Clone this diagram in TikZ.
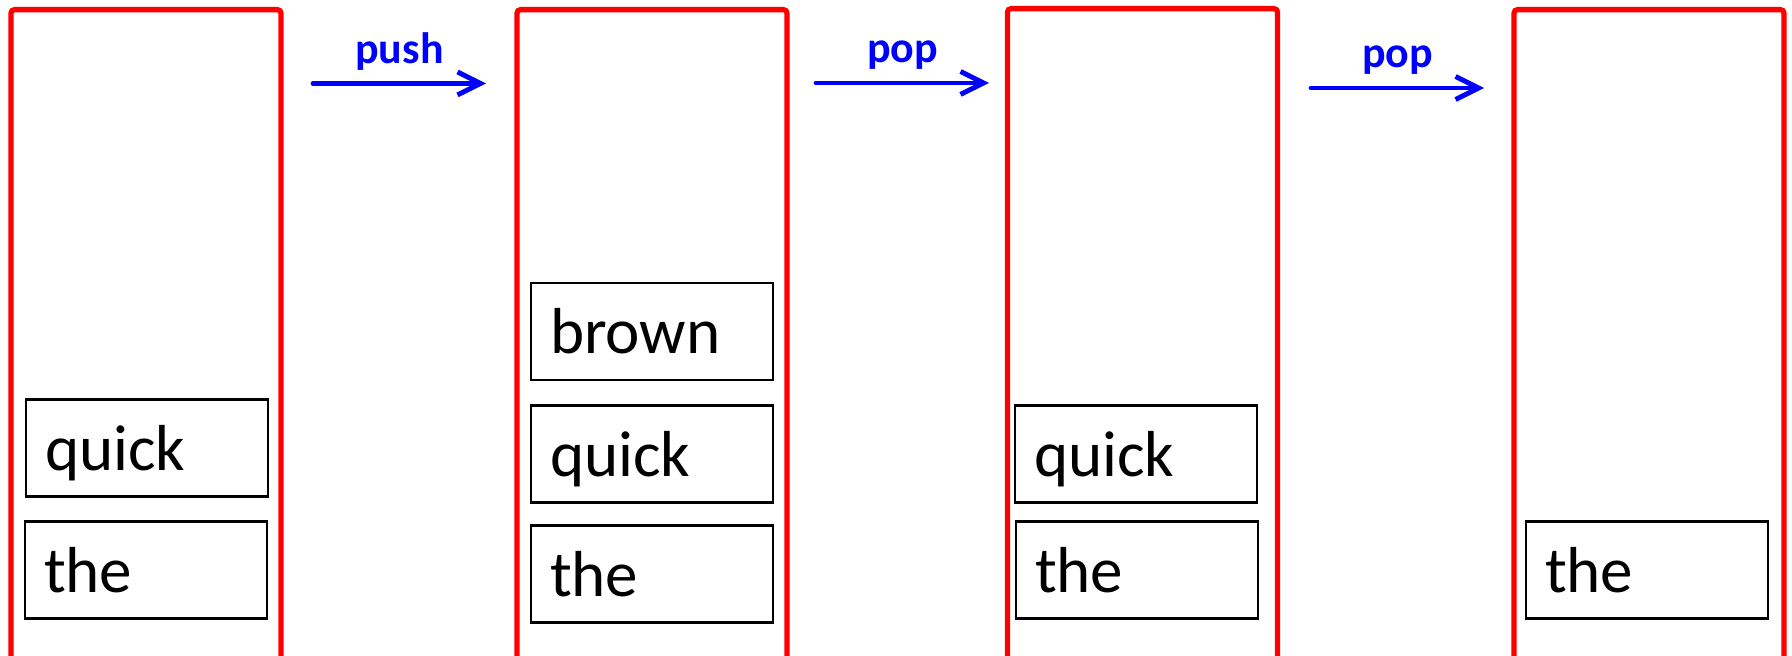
\documentclass[tikz,border=0pt]{standalone}
\usepackage{fontspec}
\setmainfont{Carlito}
\usetikzlibrary{arrows.meta}

\begin{document}
\begin{tikzpicture}[x=1cm,y=1cm,
  stackbox/.style={draw=red, line width=1.5pt, rounded corners=1pt,
    minimum width=2.7cm, minimum height=7.5cm, anchor=north},
  word/.style={draw=black, line width=0.7pt, minimum width=2.42cm,
    minimum height=0.97cm, text width=2.04cm, align=left, inner xsep=0.19cm,
    text height=0.5cm, text depth=0.05cm, font=\fontsize{18.5}{20}\selectfont},
  oparrow/.style={draw=blue, line width=1.4pt, line cap=round,
    -{Straight Barb[length=2.3mm,width=2.3mm]}},
  oplabel/.style={anchor=base, yshift=0.2cm, text=blue,
    font=\bfseries\fontsize{12.5}{14}\selectfont}
]

\useasboundingbox (0,0) rectangle (17.92,6.55);

% Stacks
\node[stackbox] (stack1) at (1.46,6.48) {};
\node[stackbox] (stack2) at (6.52,6.48) {};
\node[stackbox] (stack3) at (11.425,6.49) {};
\node[stackbox] (stack4) at (16.49,6.48) {};

% ---- Stack 1 ----
\node[word] (s1quick) at (1.47,2.07) {quick};
\node[word] (s1the) at (1.46,0.85) {the};

% ---- Stack 2 ----
\node[word] (s2brown) at (6.52,3.235) {brown};
\node[word] (s2quick) at (6.52,2.01) {quick};
\node[word] (s2the) at (6.52,0.81) {the};

% ---- Stack 3 ----
\node[word] (s3quick) at (11.36,2.01) {quick};
\node[word] (s3the) at (11.37,0.85) {the};

% ---- Stack 4 ----
\node[word] (s4the) at (16.47,0.85) {the};

% Operations
\coordinate (push-start) at (3.13,5.715);
\coordinate (push-end) at (4.86,5.715);
\draw[oparrow] (push-start) -- node[oplabel]{push} (push-end);

\coordinate (pop1-start) at (8.16,5.72);
\coordinate (pop1-end) at (9.89,5.72);
\draw[oparrow] (pop1-start) -- node[oplabel]{pop} (pop1-end);

\coordinate (pop2-start) at (13.11,5.67);
\coordinate (pop2-end) at (14.84,5.67);
\draw[oparrow] (pop2-start) -- node[oplabel]{pop} (pop2-end);

\end{tikzpicture}
\end{document}
